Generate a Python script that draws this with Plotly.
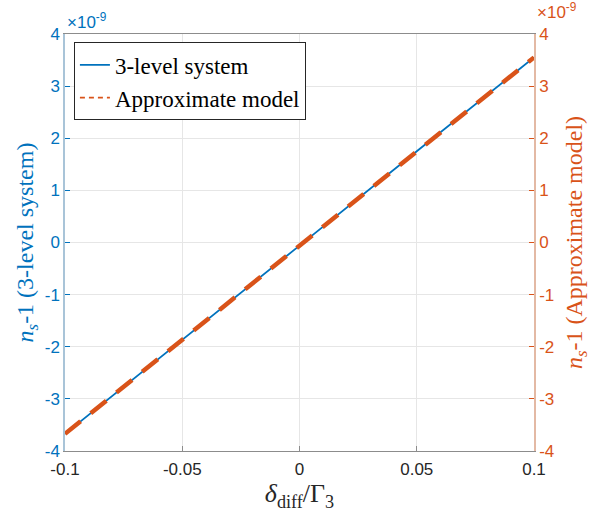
import plotly.graph_objects as go

# data (values in units of 1e-9)
delta = [-0.1, -0.05, 0.0, 0.05, 0.1]
ns_3level = [-3.67, -1.87, -0.06, 1.75, 3.55]
ns_approx = [-3.67, -1.87, -0.06, 1.75, 3.55]
xticks = [-0.1, -0.05, 0, 0.05, 0.1]
xticklabels = ["-0.1", "-0.05", "0", "0.05", "0.1"]
yticks = [-4, -3, -2, -1, 0, 1, 2, 3, 4]
yticklabels = ["-4", "-3", "-2", "-1", "0", "1", "2", "3", "4"]

BLUE = "#0072BD"
ORANGE = "#D95319"
SERIF = "Liberation Serif, Times New Roman, serif"
SANS = "Liberation Sans, Arial, sans-serif"

fig = go.Figure()
fig.add_trace(go.Scatter(x=delta, y=ns_3level, mode="lines", name="3-level system",
                         line=dict(color=BLUE, width=1.8), showlegend=False))
fig.add_trace(go.Scatter(x=delta, y=ns_approx, mode="lines", name="Approximate model",
                         line=dict(color=ORANGE, width=4.5, dash="20px,13px"),
                         yaxis="y2", showlegend=False))
# legend entries (thin samples, as in the reference)
fig.add_trace(go.Scatter(x=[None], y=[None], mode="lines", name="3-level system",
                         line=dict(color=BLUE, width=1.8)))
fig.add_trace(go.Scatter(x=[None], y=[None], mode="lines", name="Approximate model",
                         line=dict(color=ORANGE, width=1.8, dash="5px,4px")))

fig.update_layout(
    width=601, height=516,
    margin=dict(l=65, r=67, t=34, b=65),
    plot_bgcolor="white", paper_bgcolor="white",
    showlegend=True,
    legend=dict(x=0.019, y=0.98, xanchor="left", yanchor="top",
                bgcolor="white", bordercolor="#262626", borderwidth=1,
                font=dict(family=SERIF, size=23, color="#000000"),
                itemwidth=30, tracegroupgap=0),
    xaxis=dict(range=[-0.1, 0.1], tickvals=xticks, ticktext=xticklabels,
               showgrid=True, gridcolor="#E6E6E6", gridwidth=1,
               zeroline=False, showline=True, linecolor="#8C8C8C", linewidth=1, mirror=True,
               ticks="inside", ticklen=5, tickcolor="#8C8C8C", ticklabelstandoff=3,
               tickfont=dict(family=SANS, size=17, color="#262626"),
               title=dict(text="<i>δ</i><sub>diff</sub>/Γ<sub>3</sub>",
                          font=dict(family=SERIF, size=26, color="#262626"), standoff=4)),
    yaxis=dict(range=[-4, 4], tickvals=yticks, ticktext=yticklabels,
               showgrid=True, gridcolor="#E6E6E6", gridwidth=1,
               zeroline=False, showline=True, linecolor="#A9C4D8", linewidth=1.5,
               ticks="inside", ticklen=5, tickcolor=BLUE,
               tickfont=dict(family=SANS, size=17, color=BLUE),
               title=dict(text="<i>n</i><sub><i>s</i></sub>-1 (3-level system)",
                          font=dict(family=SERIF, size=24, color=BLUE), standoff=4)),
    yaxis2=dict(range=[-4, 4], tickvals=yticks, ticktext=yticklabels, overlaying="y", side="right",
                showgrid=False, zeroline=False, showline=True, linecolor="#E3B9A4", linewidth=1.5,
                ticks="inside", ticklen=5, tickcolor=ORANGE,
                tickfont=dict(family=SANS, size=17, color=ORANGE),
                title=dict(text="<i>n</i><sub><i>s</i></sub>-1 (Approximate model)",
                           font=dict(family=SERIF, size=24, color=ORANGE), standoff=12)),
    annotations=[
        dict(text="×10<sup>-9</sup>", xref="paper", yref="paper", x=0.0, y=1.0,
             xanchor="left", yanchor="bottom", showarrow=False, xshift=0, yshift=0,
             font=dict(family=SANS, size=17, color=BLUE)),
        dict(text="×10<sup>-9</sup>", xref="paper", yref="paper", x=1.0, y=1.0,
             xanchor="left", yanchor="bottom", showarrow=False, xshift=1, yshift=10,
             font=dict(family=SANS, size=17, color=ORANGE)),
    ],
)

fig.write_html("out.html")
